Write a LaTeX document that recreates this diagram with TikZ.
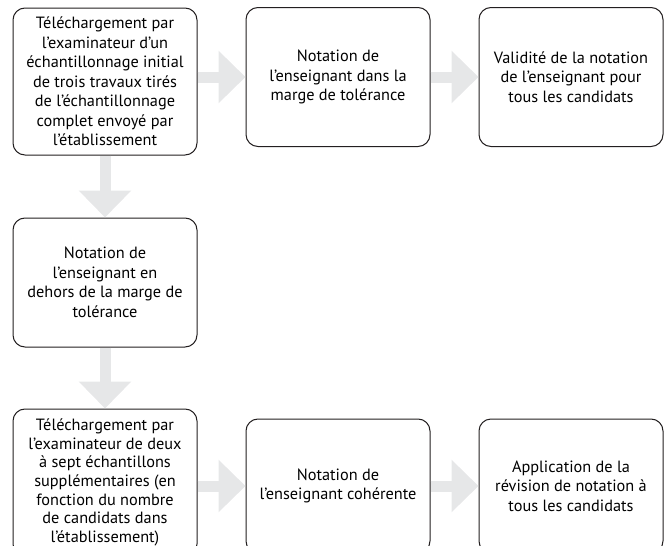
\documentclass[tikz,border=0pt]{standalone}
\usepackage{fontspec}
\setmainfont{PT Sans}
\usetikzlibrary{arrows.meta,calc}
\definecolor{boxline}{HTML}{231F20}
\definecolor{arrowgray}{HTML}{E6E7E8}
\tikzset{
  stepbox/.style={draw=boxline, line width=1pt, rounded corners=12pt, fill=white,
    align=center, inner sep=0pt, font=\fontsize{16.3}{19.5}\selectfont},
  bigarrow/.style={draw=arrowgray, line width=11pt,
    -{Triangle[length=27pt,width=51pt]}}
}
\begin{document}
\begin{tikzpicture}[x=1pt,y=-1pt]
\useasboundingbox (0,0) rectangle (665,546);
\begin{scope}
\clip (0,0) rectangle (665,546);
\node[stepbox, minimum width=184pt, minimum height=147pt] (b1) at (105,81.5)
  {Téléchargement par\\l’examinateur d’un\\échantillonnage initial\\de trois travaux tirés\\de l’échantillonnage\\complet envoyé par\\l’établissement};
\node[stepbox, minimum width=184pt, minimum height=139pt] (b2) at (338,77)
  {Notation de\\l’enseignant dans la\\marge de tolérance};
\node[stepbox, minimum width=184pt, minimum height=139pt] (b3) at (571,77)
  {Validité de la notation\\de l’enseignant pour\\tous les candidats};
\node[stepbox, minimum width=184pt, minimum height=129pt] (b4) at (105,282.5)
  {Notation de\\l’enseignant en\\dehors de la marge de\\tolérance};
\node[stepbox, minimum width=184pt, minimum height=147pt,
  font=\fontsize{16.3}{18.6}\selectfont] (b5) at (105,482.5)
  {Téléchargement par\\l’examinateur de deux\\à sept échantillons\\supplémentaires (en\\fonction du nombre\\de candidats dans\\l’établissement)};
\node[stepbox, minimum width=184pt, minimum height=134pt] (b6) at (338,486)
  {Notation de\\l’enseignant cohérente};
\node[stepbox, minimum width=184pt, minimum height=134pt] (b7) at (571,486)
  {Application de la\\révision de notation à\\tous les candidats};
\draw[bigarrow] (b1.east |- b2.west) -- (b2.west);
\draw[bigarrow] (b2.east) -- (b3.west);
\draw[bigarrow] (b1.south) -- (b4.north);
\draw[bigarrow] (b4.south) -- (b5.north);
\draw[bigarrow] (b5.east |- b6.west) -- (b6.west);
\draw[bigarrow] (b6.east) -- (b7.west);
\end{scope}
\end{tikzpicture}
\end{document}
